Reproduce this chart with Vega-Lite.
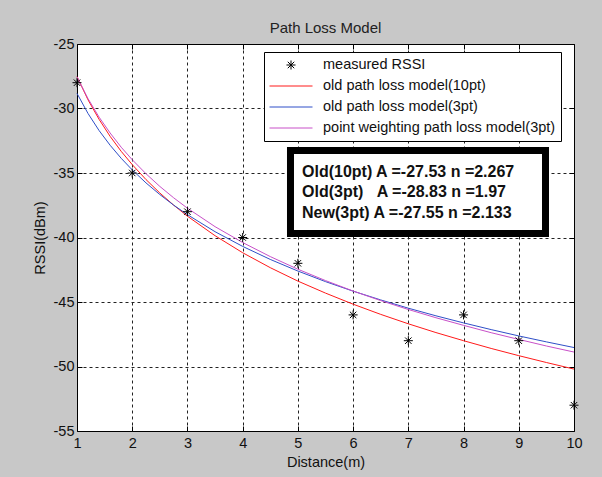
{
  "$schema": "https://vega.github.io/schema/vega-lite/v6.json",
  "width": 497,
  "height": 387,
  "autosize": {"type": "none"},
  "padding": {"left": 77, "top": 44, "right": 28, "bottom": 46},
  "background": "#c8c8c8",
  "title": {"text": "Path Loss Model", "font": "Liberation Sans", "fontSize": 15, "fontWeight": "normal", "color": "#222222", "offset": 0, "frame": "group", "anchor": "middle"},
  "datasets": {
    "measured": [
      {"d": 1, "rssi": -28, "series": "measured RSSI"},
      {"d": 2, "rssi": -35, "series": "measured RSSI"},
      {"d": 3, "rssi": -38, "series": "measured RSSI"},
      {"d": 4, "rssi": -40, "series": "measured RSSI"},
      {"d": 5, "rssi": -42, "series": "measured RSSI"},
      {"d": 6, "rssi": -46, "series": "measured RSSI"},
      {"d": 7, "rssi": -48, "series": "measured RSSI"},
      {"d": 8, "rssi": -46, "series": "measured RSSI"},
      {"d": 9, "rssi": -48, "series": "measured RSSI"},
      {"d": 10, "rssi": -53, "series": "measured RSSI"}
    ],
    "models": [
      {"d": 1, "rssi": -27.53, "series": "old path loss model(10pt)"},
      {"d": 1.2, "rssi": -29.33, "series": "old path loss model(10pt)"},
      {"d": 1.4, "rssi": -30.84, "series": "old path loss model(10pt)"},
      {"d": 1.6, "rssi": -32.16, "series": "old path loss model(10pt)"},
      {"d": 1.8, "rssi": -33.32, "series": "old path loss model(10pt)"},
      {"d": 2, "rssi": -34.35, "series": "old path loss model(10pt)"},
      {"d": 2.25, "rssi": -35.51, "series": "old path loss model(10pt)"},
      {"d": 2.5, "rssi": -36.55, "series": "old path loss model(10pt)"},
      {"d": 2.75, "rssi": -37.49, "series": "old path loss model(10pt)"},
      {"d": 3, "rssi": -38.35, "series": "old path loss model(10pt)"},
      {"d": 3.5, "rssi": -39.86, "series": "old path loss model(10pt)"},
      {"d": 4, "rssi": -41.18, "series": "old path loss model(10pt)"},
      {"d": 4.5, "rssi": -42.34, "series": "old path loss model(10pt)"},
      {"d": 5, "rssi": -43.38, "series": "old path loss model(10pt)"},
      {"d": 5.5, "rssi": -44.31, "series": "old path loss model(10pt)"},
      {"d": 6, "rssi": -45.17, "series": "old path loss model(10pt)"},
      {"d": 6.5, "rssi": -45.96, "series": "old path loss model(10pt)"},
      {"d": 7, "rssi": -46.69, "series": "old path loss model(10pt)"},
      {"d": 7.5, "rssi": -47.37, "series": "old path loss model(10pt)"},
      {"d": 8, "rssi": -48.0, "series": "old path loss model(10pt)"},
      {"d": 8.5, "rssi": -48.6, "series": "old path loss model(10pt)"},
      {"d": 9, "rssi": -49.16, "series": "old path loss model(10pt)"},
      {"d": 9.5, "rssi": -49.69, "series": "old path loss model(10pt)"},
      {"d": 10, "rssi": -50.2, "series": "old path loss model(10pt)"},
      {"d": 1, "rssi": -28.83, "series": "old path loss model(3pt)"},
      {"d": 1.2, "rssi": -30.39, "series": "old path loss model(3pt)"},
      {"d": 1.4, "rssi": -31.71, "series": "old path loss model(3pt)"},
      {"d": 1.6, "rssi": -32.85, "series": "old path loss model(3pt)"},
      {"d": 1.8, "rssi": -33.86, "series": "old path loss model(3pt)"},
      {"d": 2, "rssi": -34.76, "series": "old path loss model(3pt)"},
      {"d": 2.25, "rssi": -35.77, "series": "old path loss model(3pt)"},
      {"d": 2.5, "rssi": -36.67, "series": "old path loss model(3pt)"},
      {"d": 2.75, "rssi": -37.49, "series": "old path loss model(3pt)"},
      {"d": 3, "rssi": -38.23, "series": "old path loss model(3pt)"},
      {"d": 3.5, "rssi": -39.55, "series": "old path loss model(3pt)"},
      {"d": 4, "rssi": -40.69, "series": "old path loss model(3pt)"},
      {"d": 4.5, "rssi": -41.7, "series": "old path loss model(3pt)"},
      {"d": 5, "rssi": -42.6, "series": "old path loss model(3pt)"},
      {"d": 5.5, "rssi": -43.42, "series": "old path loss model(3pt)"},
      {"d": 6, "rssi": -44.16, "series": "old path loss model(3pt)"},
      {"d": 6.5, "rssi": -44.84, "series": "old path loss model(3pt)"},
      {"d": 7, "rssi": -45.48, "series": "old path loss model(3pt)"},
      {"d": 7.5, "rssi": -46.07, "series": "old path loss model(3pt)"},
      {"d": 8, "rssi": -46.62, "series": "old path loss model(3pt)"},
      {"d": 8.5, "rssi": -47.14, "series": "old path loss model(3pt)"},
      {"d": 9, "rssi": -47.63, "series": "old path loss model(3pt)"},
      {"d": 9.5, "rssi": -48.09, "series": "old path loss model(3pt)"},
      {"d": 10, "rssi": -48.53, "series": "old path loss model(3pt)"},
      {"d": 1, "rssi": -27.55, "series": "point weighting path loss model(3pt)"},
      {"d": 1.2, "rssi": -29.24, "series": "point weighting path loss model(3pt)"},
      {"d": 1.4, "rssi": -30.67, "series": "point weighting path loss model(3pt)"},
      {"d": 1.6, "rssi": -31.9, "series": "point weighting path loss model(3pt)"},
      {"d": 1.8, "rssi": -33.0, "series": "point weighting path loss model(3pt)"},
      {"d": 2, "rssi": -33.97, "series": "point weighting path loss model(3pt)"},
      {"d": 2.25, "rssi": -35.06, "series": "point weighting path loss model(3pt)"},
      {"d": 2.5, "rssi": -36.04, "series": "point weighting path loss model(3pt)"},
      {"d": 2.75, "rssi": -36.92, "series": "point weighting path loss model(3pt)"},
      {"d": 3, "rssi": -37.73, "series": "point weighting path loss model(3pt)"},
      {"d": 3.5, "rssi": -39.16, "series": "point weighting path loss model(3pt)"},
      {"d": 4, "rssi": -40.39, "series": "point weighting path loss model(3pt)"},
      {"d": 4.5, "rssi": -41.48, "series": "point weighting path loss model(3pt)"},
      {"d": 5, "rssi": -42.46, "series": "point weighting path loss model(3pt)"},
      {"d": 5.5, "rssi": -43.34, "series": "point weighting path loss model(3pt)"},
      {"d": 6, "rssi": -44.15, "series": "point weighting path loss model(3pt)"},
      {"d": 6.5, "rssi": -44.89, "series": "point weighting path loss model(3pt)"},
      {"d": 7, "rssi": -45.58, "series": "point weighting path loss model(3pt)"},
      {"d": 7.5, "rssi": -46.22, "series": "point weighting path loss model(3pt)"},
      {"d": 8, "rssi": -46.81, "series": "point weighting path loss model(3pt)"},
      {"d": 8.5, "rssi": -47.38, "series": "point weighting path loss model(3pt)"},
      {"d": 9, "rssi": -47.9, "series": "point weighting path loss model(3pt)"},
      {"d": 9.5, "rssi": -48.41, "series": "point weighting path loss model(3pt)"},
      {"d": 10, "rssi": -48.88, "series": "point weighting path loss model(3pt)"}
    ]
  },
  "resolve": {"axis": {"x": "independent", "y": "independent"}},
  "layer": [
    {
      "data": {"name": "models"},
      "mark": {"type": "line", "strokeWidth": 1},
      "encoding": {
        "x": {"field": "d", "type": "quantitative", "scale": {"domain": [1, 10], "nice": false, "zero": false},
              "axis": {"orient": "top", "values": [1, 2, 3, 4, 5, 6, 7, 8, 9, 10], "labels": false, "grid": false, "title": null}},
        "y": {"field": "rssi", "type": "quantitative", "scale": {"domain": [-55, -25], "nice": false, "zero": false},
              "axis": {"orient": "right", "values": [-25, -30, -35, -40, -45, -50, -55], "labels": false, "grid": false, "title": null}},
        "color": {"field": "series", "type": "nominal", "legend": {"title": null},
                  "scale": {"domain": ["measured RSSI", "old path loss model(10pt)", "old path loss model(3pt)", "point weighting path loss model(3pt)"],
                            "range": ["#000000", "#ff1a1a", "#2f4fc8", "#c850c8"]}}
      }
    },
    {
      "data": {"name": "measured"},
      "mark": {"type": "point", "filled": false, "size": 1849, "strokeWidth": 1, "opacity": 1},
      "encoding": {
        "x": {"field": "d", "type": "quantitative",
              "axis": {"orient": "bottom", "values": [1, 2, 3, 4, 5, 6, 7, 8, 9, 10], "labelExpr": "'' + datum.value", "grid": true,
                       "gridOpacity": {"condition": {"test": "datum.value == 1 || datum.value == 10", "value": 0}, "value": 1},
                       "labelPadding": 10, "labelFlush": false, "labelOverlap": false, "title": "Distance(m)", "titlePadding": 6}},
        "y": {"field": "rssi", "type": "quantitative",
              "axis": {"orient": "left", "values": [-25, -30, -35, -40, -45, -50, -55], "labelExpr": "'' + datum.value", "grid": true,
                       "gridOpacity": {"condition": {"test": "datum.value == -25 || datum.value == -55", "value": 0}, "value": 1},
                       "labelPadding": 8, "labelFlush": false, "labelOverlap": false, "title": "RSSI(dBm)", "titlePadding": 6}},
        "color": {"field": "series", "type": "nominal", "legend": {"title": null},
                  "scale": {"domain": ["measured RSSI", "old path loss model(10pt)", "old path loss model(3pt)", "point weighting path loss model(3pt)"],
                            "range": ["#000000", "#ff1a1a", "#2f4fc8", "#c850c8"]}},
        "shape": {"field": "series", "type": "nominal", "legend": {"title": null},
                  "scale": {"domain": ["measured RSSI", "old path loss model(10pt)", "old path loss model(3pt)", "point weighting path loss model(3pt)"],
                            "range": ["M-0.21,0L0.21,0M0,-0.21L0,0.21M-0.15,-0.15L0.15,0.15M-0.15,0.15L0.15,-0.15", "stroke", "stroke", "stroke"]}}
      }
    },
    {
      "data": {"values": [{}]},
      "mark": {"type": "rect", "fill": "white", "stroke": "black", "strokeWidth": 7},
      "encoding": {
        "x": {"datum": 4.866, "type": "quantitative", "axis": null},
        "x2": {"datum": 9.484},
        "y": {"datum": -33.26, "type": "quantitative", "axis": null},
        "y2": {"datum": -39.69}
      }
    },
    {
      "data": {"values": [{}]},
      "mark": {"type": "text", "align": "left", "baseline": "middle", "font": "Liberation Sans", "fontSize": 16, "fontWeight": "bold", "lineHeight": 20.5, "color": "#111111"},
      "encoding": {
        "x": {"datum": 5.075, "type": "quantitative", "axis": null},
        "y": {"datum": -34.92, "type": "quantitative", "axis": null},
        "text": {"value": ["Old(10pt) A =-27.53 n =2.267", "Old(3pt)\u00a0\u00a0\u00a0A =-28.83 n =1.97", "New(3pt) A =-27.55 n =2.133"]}
      }
    }
  ],
  "config": {
    "view": {"fill": "white", "stroke": "black", "strokeWidth": 1},
    "axis": {"labelFont": "Liberation Sans", "labelFontSize": 14.5, "labelColor": "#111111", "titleFont": "Liberation Sans", "titleFontSize": 14.5, "titleFontWeight": "normal", "titleColor": "#111111", "tickColor": "black", "tickSize": -5, "domain": false, "gridColor": "#222222", "gridDash": [3, 3], "gridWidth": 1},
    "legend": {"orient": "none", "legendX": 187, "legendY": 8, "strokeColor": "black", "fillColor": "white", "padding": 5, "labelFont": "Liberation Sans", "labelFontSize": 14.5, "labelColor": "#111111", "labelLimit": 400, "labelOffset": 10, "symbolSize": 1849, "symbolStrokeWidth": 1, "clipHeight": 16, "rowPadding": 5}
  }
}
